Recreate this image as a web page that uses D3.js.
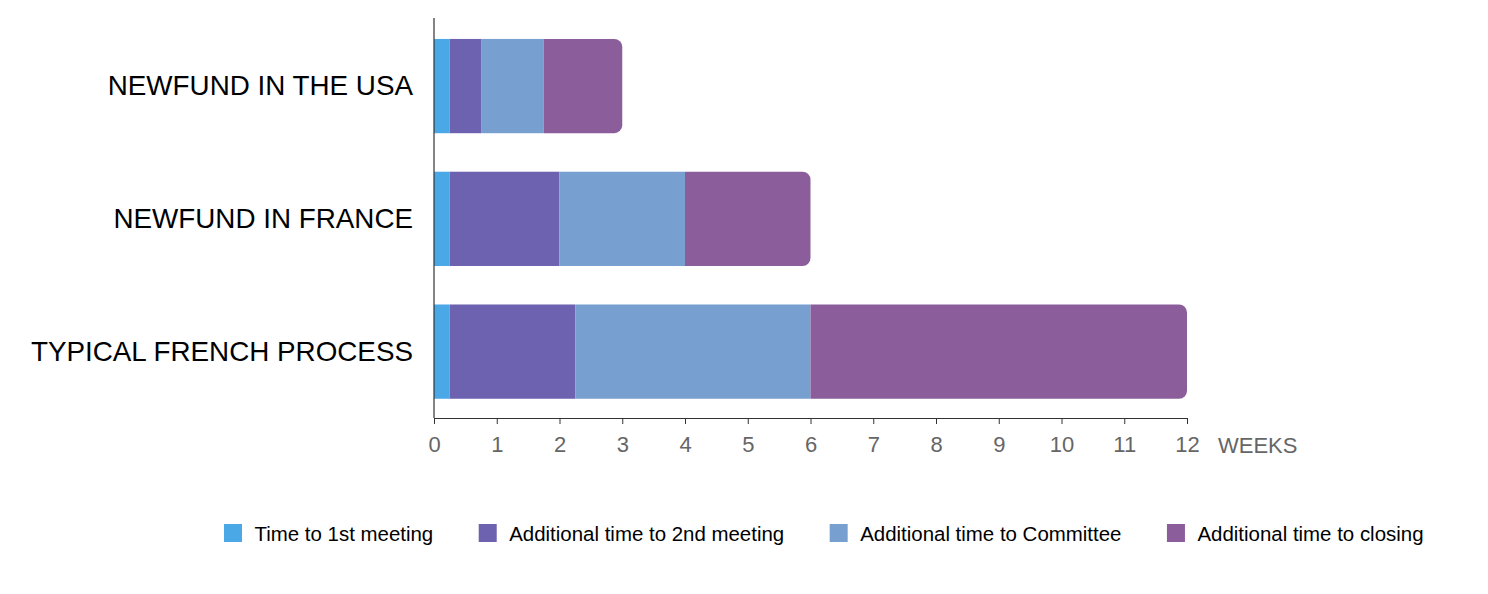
<!DOCTYPE html>
<html>
<head>
<meta charset="utf-8">
<script src="https://cdn.jsdelivr.net/npm/d3@7/dist/d3.min.js"></script>
<style>
  html, body { margin: 0; padding: 0; background: #fff; }
  svg { display: block; font-family: "Liberation Sans", Arial, sans-serif; }
</style>
</head>
<body>
<svg id="chart" width="1488" height="594"></svg>
<script>
const categories = ["NEWFUND IN THE USA", "NEWFUND IN FRANCE", "TYPICAL FRENCH PROCESS"];
const seriesNames = ["Time to 1st meeting", "Additional time to 2nd meeting", "Additional time to Committee", "Additional time to closing"];
const firstMeeting = [0.25, 0.25, 0.25];
const secondMeeting = [0.5, 1.75, 2.0];
const committee = [1.0, 2.0, 3.75];
const closing = [1.25, 2.0, 6.0];
const tickValues = [0, 1, 2, 3, 4, 5, 6, 7, 8, 9, 10, 11, 12];
const colors = ["#4aa8e6", "#6c62af", "#77a0d0", "#8b5d9b"];
const axisUnit = "WEEKS";

const svg = d3.select("#chart");
const series = [firstMeeting, secondMeeting, committee, closing];

const x = d3.scaleLinear().domain([0, 12]).range([434, 1187]);
const y = d3.scaleBand().domain(categories).range([19.7, 418]).paddingInner(0.29).paddingOuter(0.145);

// stacked data
const rows = categories.map((c, i) => {
  let acc = 0;
  return series.map((s, k) => {
    const seg = { cat: c, k, x0: acc, x1: acc + s[i] };
    acc += s[i];
    return seg;
  });
});

const r = 8;
rows.forEach(segs => {
  segs.forEach((d, k) => {
    const x0 = x(d.x0), x1 = x(d.x1), y0 = y(d.cat), h = y.bandwidth();
    if (k === segs.length - 1) {
      const p = d3.path();
      p.moveTo(x0, y0);
      p.lineTo(x1 - r, y0);
      p.arcTo(x1, y0, x1, y0 + r, r);
      p.lineTo(x1, y0 + h - r);
      p.arcTo(x1, y0 + h, x1 - r, y0 + h, r);
      p.lineTo(x0, y0 + h);
      p.closePath();
      svg.append("path").attr("d", p.toString()).attr("fill", colors[k]);
    } else {
      svg.append("rect").attr("x", x0).attr("y", y0)
        .attr("width", x1 - x0).attr("height", h).attr("fill", colors[k]);
    }
  });
});

// x axis
const xAxis = d3.axisBottom(x).tickValues(tickValues).tickSize(6).tickSizeOuter(0).tickPadding(12);
const gx = svg.append("g").attr("transform", "translate(0,418)").call(xAxis);
gx.select(".domain").attr("stroke", "#333").attr("stroke-width", 1.2);
gx.selectAll(".tick line").attr("stroke", "#333");
gx.selectAll(".tick text").attr("fill", "#666").attr("font-size", 22).attr("font-family", "Liberation Sans, Arial, sans-serif");

svg.append("text").attr("x", 1218).attr("y", 452.5)
  .attr("fill", "#666").attr("font-size", 22).text(axisUnit);

// y axis line
const yAxis = d3.axisLeft(y).tickSize(0).tickPadding(21);
const gy = svg.append("g").attr("transform", "translate(434,0)").call(yAxis);
gy.select(".domain").attr("d", "M0,18V418").attr("stroke", "#333").attr("stroke-width", 1.2);
gy.selectAll(".tick text").attr("fill", "#000").attr("font-size", 27.8).attr("font-family", "Liberation Sans, Arial, sans-serif");

// legend
const legend = svg.append("g");
let lx = 224;
seriesNames.forEach((name, k) => {
  legend.append("rect").attr("x", lx).attr("y", 524).attr("width", 18).attr("height", 18).attr("fill", colors[k]);
  const t = legend.append("text").attr("x", lx + 30.5).attr("y", 540.5)
    .attr("font-size", 20.45).attr("fill", "#000").text(name);
  lx += 30.5 + t.node().getComputedTextLength() + 45.5;
});
</script>
</body>
</html>
